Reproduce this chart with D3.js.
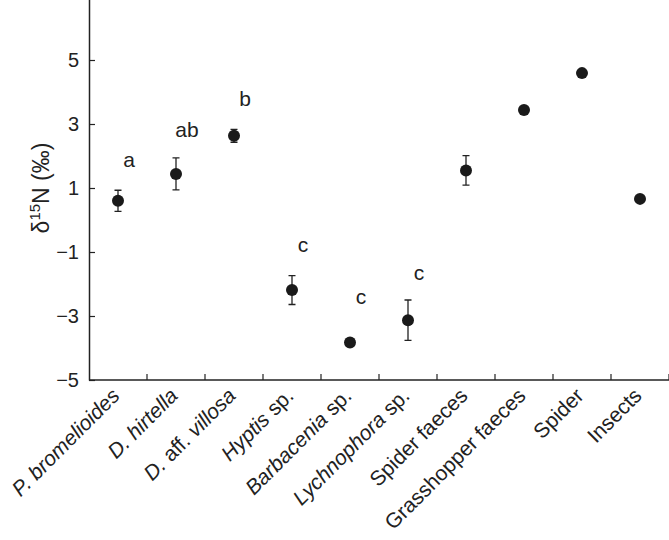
<!DOCTYPE html>
<html>
<head>
<meta charset="utf-8">
<script src="https://cdn.jsdelivr.net/npm/d3@7"></script>
<style>
	body { margin: 0; background: #fff; }
	svg { display: block; font-family: "Liberation Sans", Arial, sans-serif; }
</style>
</head>
<body>
<div id="chart"></div>
<script>
let categories = ['P. bromelioides', 'D. hirtella', 'D. aff. villosa', 'Hyptis sp.', 'Barbacenia sp.',
	'Lychnophora sp.', 'Spider faeces', 'Grasshopper faeces', 'Spider', 'Insects'];
// label pieces, alternating italic / upright
let labelParts = [['P. bromelioides', ''], ['D. hirtella', ''], ['D.', ' aff. ', 'villosa'], ['Hyptis', ' sp.'],
	['Barbacenia', ' sp.'], ['Lychnophora', ' sp.'], ['', 'Spider faeces'], ['', 'Grasshopper faeces'], ['', 'Spider'], ['', 'Insects']];
let means = [0.60, 1.44, 2.63, -2.19, -3.83, -3.13, 1.55, 3.44, 4.59, 0.66];
let errors = [0.33, 0.50, 0.20, 0.45, 0.08, 0.63, 0.46, 0, 0, 0];
let letters = ['a', 'ab', 'b', 'c', 'c', 'c'];
let letterY = [1.65, 2.60, 3.55, -1.0, -2.62, -1.87];
let yTicks = [-5, -3, -1, 1, 3, 5];

let WIDTH = 669;
let HEIGHT = 540;
let margin = {left: 89, right: 0, top: 0, bottom: 160};

let svg = d3.select('#chart').append('svg')
	.attr('width', WIDTH)
	.attr('height', HEIGHT);

let x = d3.scaleBand()
	.domain(categories)
	.range([margin.left, WIDTH - margin.right])
	.padding(0);

let y = d3.scaleLinear()
	.domain([-5, 7])
	.range([HEIGHT - margin.bottom, -4]);

let ink = '#222';

// y axis
let yAxis = svg.append('g')
	.attr('transform', `translate(${margin.left},0)`)
	.call(d3.axisLeft(y).tickValues(yTicks).tickSizeInner(-6).tickSizeOuter(0).tickPadding(10)
		.tickFormat(d => d < 0 ? '\u2212' + Math.abs(d) : d));
yAxis.select('.domain').attr('stroke', ink).attr('stroke-width', 1.5);
yAxis.selectAll('.tick line').attr('stroke', ink).attr('stroke-width', 1.2);
yAxis.selectAll('.tick text').attr('font-size', 20).attr('fill', ink).attr('font-family', null);

// x axis: ticks sit between categories
let bounds = categories.map(c => x(c) + x.bandwidth());
let xAxis = svg.append('g')
	.attr('transform', `translate(0,${y(-5)})`);
xAxis.append('line')
	.attr('x1', margin.left).attr('x2', WIDTH)
	.attr('stroke', ink).attr('stroke-width', 1.5);
xAxis.selectAll('.xtick').data(bounds).enter().append('line')
	.attr('class', 'xtick')
	.attr('x1', d => d).attr('x2', d => d)
	.attr('y1', 0).attr('y2', -6)
	.attr('stroke', ink).attr('stroke-width', 1.2);

xAxis.selectAll('.xlabel').data(categories).enter().append('text')
	.attr('class', 'xlabel')
	.attr('transform', d => `translate(${x(d) + x.bandwidth() / 2 + 3},${17}) rotate(-45)`)
	.attr('text-anchor', 'end')
	.attr('font-size', 21)
	.attr('fill', ink)
	.each(function(d, i) {
		let t = d3.select(this);
		labelParts[i].forEach((p, j) => {
			if (!p) return;
			t.append('tspan').text(p).attr('font-style', j % 2 === 0 ? 'italic' : 'normal');
		});
	});

// y label
svg.append('text')
	.attr('transform', `translate(49,${y(1)}) rotate(-90)`)
	.attr('text-anchor', 'middle')
	.attr('font-size', 23)
	.attr('fill', ink)
	.call(t => {
		t.append('tspan').text('\u03b4');
		t.append('tspan').text('15').attr('font-size', 15).attr('dy', -9);
		t.append('tspan').text('N (\u2030)').attr('dy', 9);
	});

// error bars
let cap = 3.5;
let g = svg.append('g');
let withErr = categories.map((c, i) => ({c: c, m: means[i], e: errors[i]})).filter(d => d.e > 0);
g.selectAll('.err').data(withErr).enter().append('path')
	.attr('class', 'err')
	.attr('d', d => {
		let cx = x(d.c) + x.bandwidth() / 2;
		let t = y(d.m + d.e), b = y(d.m - d.e);
		return `M${cx},${t}V${b}M${cx - cap},${t}H${cx + cap}M${cx - cap},${b}H${cx + cap}`;
	})
	.attr('fill', 'none')
	.attr('stroke', ink)
	.attr('stroke-width', 1.3);

// points
g.selectAll('.pt').data(categories).enter().append('circle')
	.attr('class', 'pt')
	.attr('cx', d => x(d) + x.bandwidth() / 2)
	.attr('cy', (d, i) => y(means[i]))
	.attr('r', 6)
	.attr('fill', '#1a1a1a');

// significance letters
g.selectAll('.sig').data(letters).enter().append('text')
	.attr('class', 'sig')
	.attr('x', (d, i) => x(categories[i]) + x.bandwidth() / 2 + 11)
	.attr('y', (d, i) => y(letterY[i]))
	.attr('text-anchor', 'middle')
	.attr('font-size', 21)
	.attr('fill', ink)
	.text(d => d);
</script>
</body>
</html>
